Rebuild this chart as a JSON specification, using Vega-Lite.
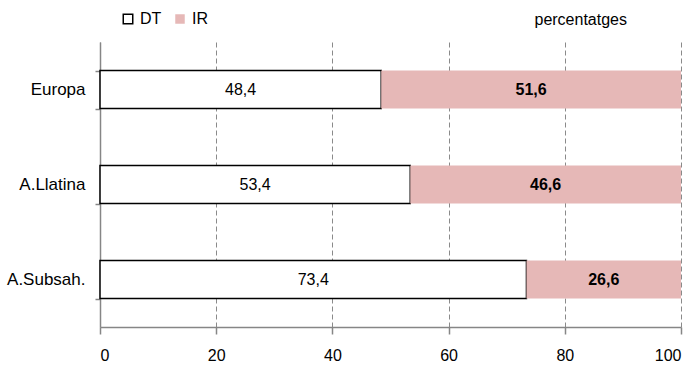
{
  "$schema": "https://vega.github.io/schema/vega-lite/v6.json",
  "width": 581,
  "height": 285,
  "autosize": "none",
  "padding": {"left": 100, "top": 42, "right": 15, "bottom": 40},
  "background": "white",
  "title": {
    "text": "percentatges",
    "anchor": "end",
    "frame": "group",
    "font": "Liberation Sans",
    "fontSize": 16,
    "fontWeight": "normal",
    "color": "black",
    "baseline": "alphabetic",
    "dx": -54,
    "offset": 0,
    "dy": 30
  },
  "data": {
    "values": [
      {"cat": "Europa", "series": "DT", "ord": 1, "value": 48.4},
      {"cat": "Europa", "series": "IR", "ord": 2, "value": 51.6},
      {"cat": "A.Llatina", "series": "DT", "ord": 1, "value": 53.4},
      {"cat": "A.Llatina", "series": "IR", "ord": 2, "value": 46.6},
      {"cat": "A.Subsah.", "series": "DT", "ord": 1, "value": 73.4},
      {"cat": "A.Subsah.", "series": "IR", "ord": 2, "value": 26.6}
    ]
  },
  "encoding": {
    "y": {
      "field": "cat",
      "type": "nominal",
      "sort": ["Europa", "A.Llatina", "A.Subsah."],
      "scale": {"paddingInner": 0.6, "paddingOuter": 0.3},
      "axis": {
        "title": null,
        "tickBand": "extent",
        "domainColor": "#868686",
        "domainWidth": 1.5,
        "tickColor": "#868686",
        "tickWidth": 1.5,
        "tickSize": 5,
        "labelFont": "Liberation Sans",
        "labelFontSize": 17,
        "labelColor": "black",
        "labelPadding": 10,
        "grid": false
      }
    }
  },
  "layer": [
    {
      "mark": {"type": "bar", "strokeWidth": 1.5},
      "encoding": {
        "x": {
          "field": "value",
          "type": "quantitative",
          "stack": "zero",
          "scale": {"domain": [0, 100], "nice": false},
          "axis": {
            "title": null,
            "values": [0, 20, 40, 60, 80, 100],
            "grid": true,
            "gridDash": [5, 3],
            "gridColor": "#8a8a8a",
            "gridWidth": 1,
            "domainColor": "#868686",
            "domainWidth": 1.5,
            "tickColor": "#868686",
            "tickWidth": 1.5,
            "tickSize": 7,
            "labelFont": "Liberation Sans",
            "labelFontSize": 16,
            "labelColor": "black",
            "labelPadding": 13
          }
        },
        "order": {"field": "ord", "type": "quantitative"},
        "color": {
          "field": "series",
          "type": "nominal",
          "scale": {"domain": ["DT", "IR"], "range": ["#ffffff", "#e6b8b7"]},
          "legend": {
            "title": null,
            "orient": "none",
            "direction": "horizontal",
            "legendX": 20,
            "legendY": -31,
            "symbolType": "square",
            "symbolSize": 90,
            "symbolStrokeWidth": 1.5,
            "labelFont": "Liberation Sans",
            "labelFontSize": 16,
            "labelColor": "black",
            "labelOffset": 4,
            "columnPadding": 10
          }
        },
        "stroke": {
          "field": "series",
          "type": "nominal",
          "scale": {"domain": ["DT", "IR"], "range": ["#000000", "transparent"]},
          "legend": {
            "title": null,
            "orient": "none",
            "direction": "horizontal",
            "legendX": 20,
            "legendY": -31,
            "symbolType": "square",
            "symbolSize": 90,
            "symbolStrokeWidth": 1.5,
            "labelFont": "Liberation Sans",
            "labelFontSize": 16,
            "labelColor": "black",
            "labelOffset": 4,
            "columnPadding": 10
          }
        }
      }
    },
    {
      "mark": {"type": "text", "font": "Liberation Sans", "fontSize": 16, "color": "black", "fontWeight": "normal"},
      "encoding": {
        "x": {"field": "value", "type": "quantitative", "stack": "zero", "bandPosition": 0.5},
        "detail": {"field": "series", "type": "nominal"},
        "order": {"field": "ord", "type": "quantitative"},
        "text": {
          "condition": {"test": "datum.series === 'DT'", "field": "value", "type": "quantitative", "format": ".1f"},
          "value": ""
        }
      }
    },
    {
      "mark": {"type": "text", "font": "Liberation Sans", "fontSize": 16, "color": "black", "fontWeight": "bold"},
      "encoding": {
        "x": {"field": "value", "type": "quantitative", "stack": "zero", "bandPosition": 0.5},
        "detail": {"field": "series", "type": "nominal"},
        "order": {"field": "ord", "type": "quantitative"},
        "text": {
          "condition": {"test": "datum.series === 'IR'", "field": "value", "type": "quantitative", "format": ".1f"},
          "value": ""
        }
      }
    }
  ],
  "config": {
    "view": {"stroke": null},
    "locale": {"number": {"decimal": ",", "thousands": ".", "grouping": [3], "currency": ["", " €"]}}
  }
}
